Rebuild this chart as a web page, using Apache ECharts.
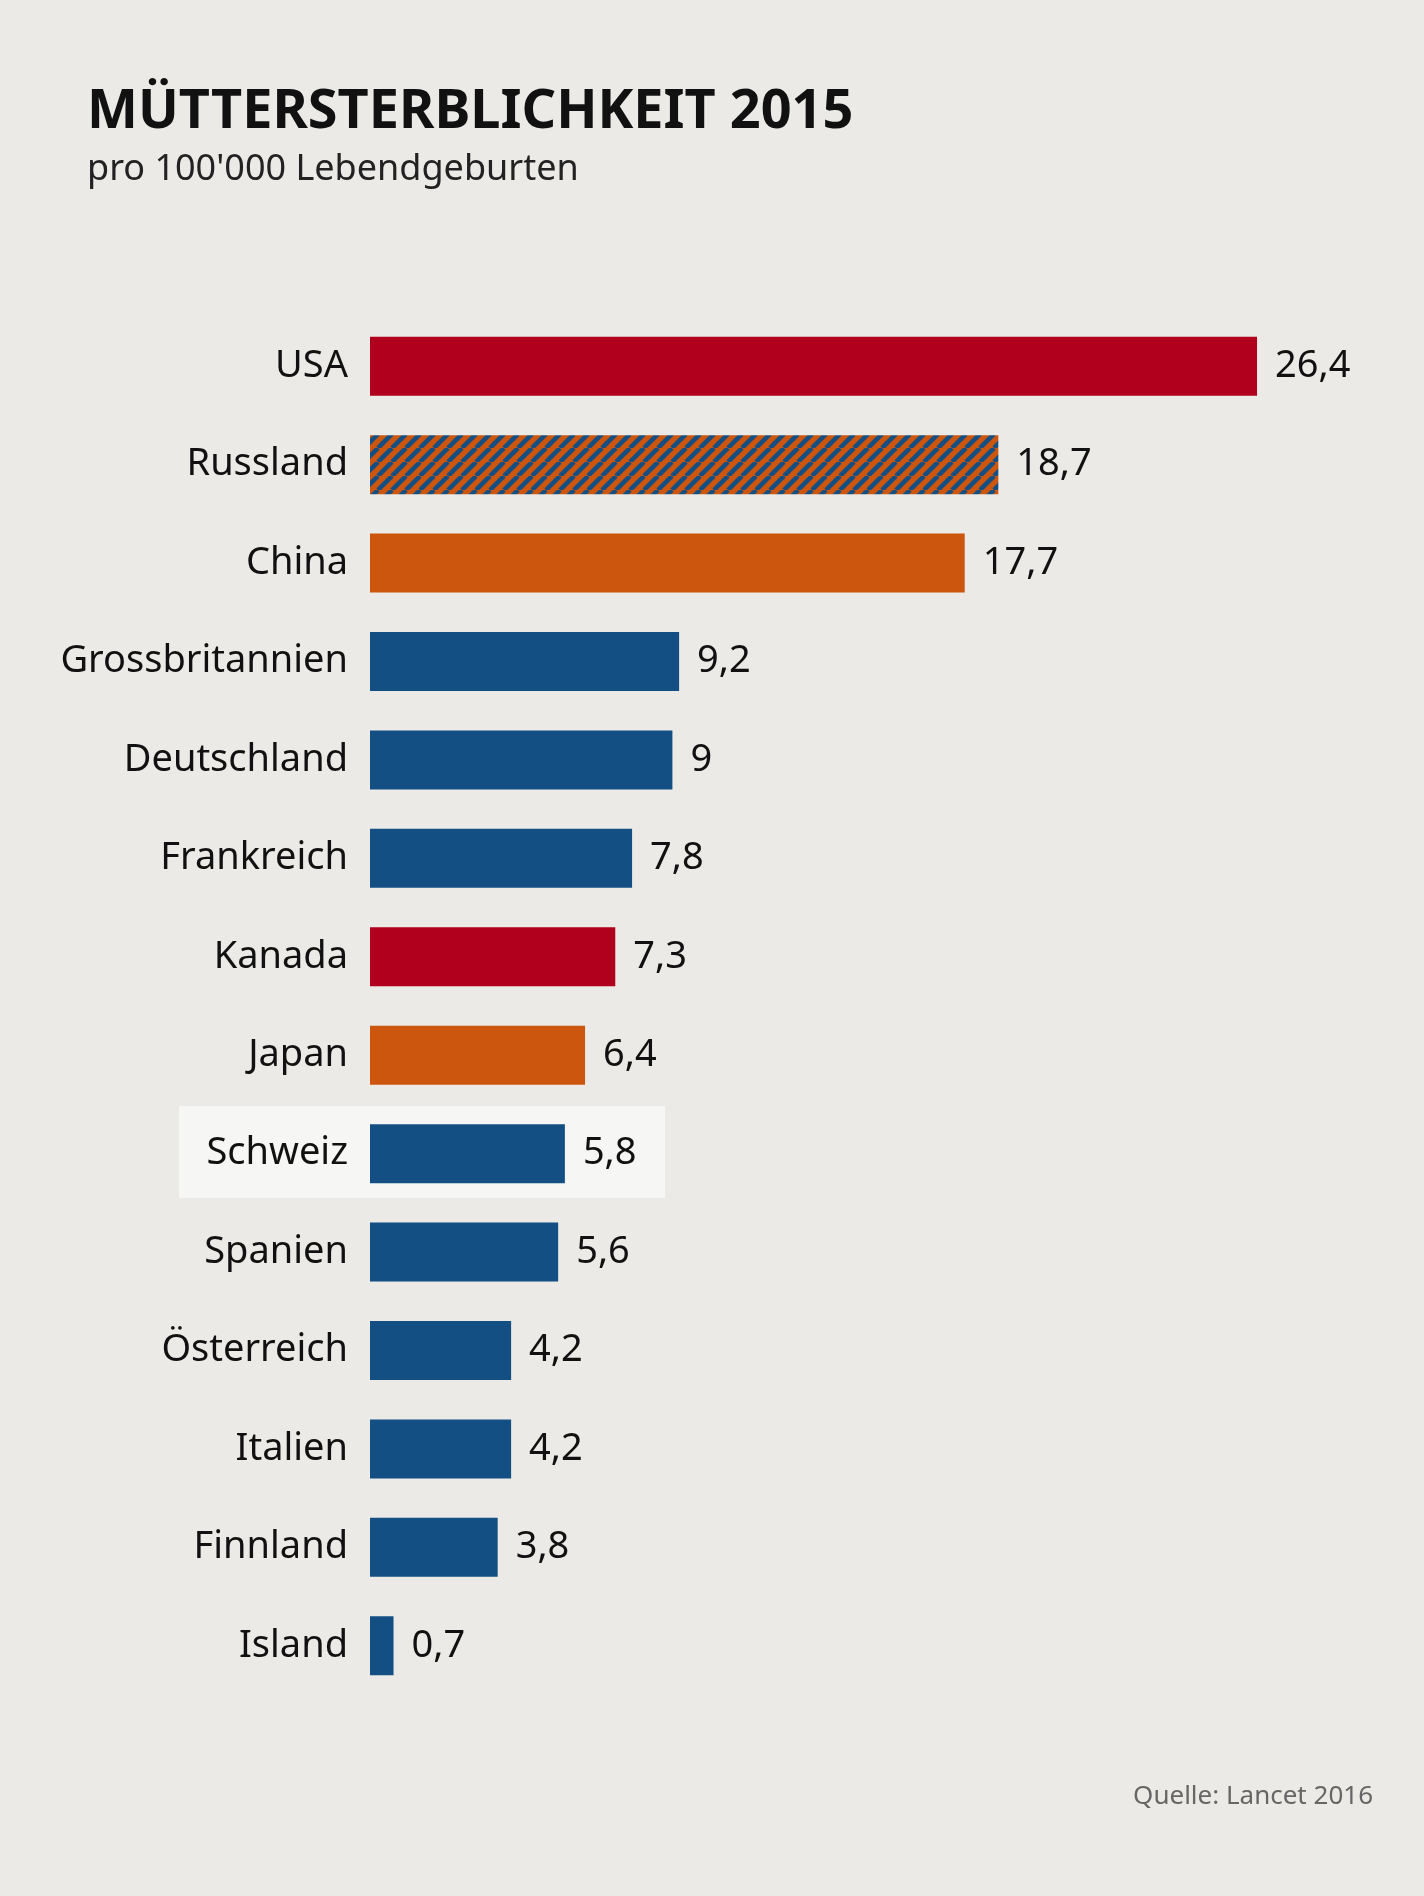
<!DOCTYPE html>
<html><head><meta charset="utf-8">
<script src="https://cdn.jsdelivr.net/npm/echarts@6/dist/echarts.min.js"></script>
<style>html,body{margin:0;padding:0;background:#ebeae6}#c{width:1424px;height:1896px}</style>
</head><body><div id="c"></div>
<script>
const categories = ['USA','Russland','China','Grossbritannien','Deutschland','Frankreich','Kanada','Japan','Schweiz','Spanien','Österreich','Italien','Finnland','Island'];
const values = [26.4,18.7,17.7,9.2,9,7.8,7.3,6.4,5.8,5.6,4.2,4.2,3.8,0.7];
const groups = ['red','hatch','orange','blue','blue','blue','red','orange','blue','blue','blue','blue','blue','blue'];

const RED='#b0001e', ORANGE='#cc560e', BLUE='#134f83';
const tile=document.createElement('canvas'); tile.width=14; tile.height=14;
const g=tile.getContext('2d'); g.fillStyle=ORANGE; g.fillRect(0,0,14,14);
g.strokeStyle=BLUE; g.lineWidth=4.5;
for(const o of [-14,0,14]){g.beginPath();g.moveTo(o,14);g.lineTo(o+14,0);g.stroke();}
const colorOf = k => k==='red'?RED:k==='orange'?ORANGE:k==='blue'?BLUE:{image:tile,repeat:'repeat'};

const chart=echarts.init(document.getElementById('c'));
const F='"Noto Sans", sans-serif';
chart.setOption({
  backgroundColor:'#ebeae6',
  animation:false,
  graphic:[
    {type:'rect',z:-1,shape:{x:179,y:1106,width:486,height:92},style:{fill:'#f6f6f4'}},
    {type:'text',left:87,top:86,style:{text:'MÜTTERSTERBLICHKEIT 2015',font:'bold 54px '+F,fill:'#111'}},
    {type:'text',left:87,top:152,style:{text:"pro 100'000 Lebendgeburten",font:'36px '+F,fill:'#222'}},
    {type:'text',right:51,top:1784,style:{text:'Quelle: Lancet 2016',font:'26px '+F,fill:'#666'}}
  ],
  grid:{left:370,top:317,width:1008,height:1378,containLabel:false},
  xAxis:{type:'value',min:0,max:30,show:false},
  yAxis:{type:'category',data:categories,inverse:true,axisLine:{show:false},axisTick:{show:false},
    axisLabel:{fontFamily:F,fontSize:38,color:'#111',margin:22}},
  series:[{type:'bar',barWidth:59,
    data:values.map((v,i)=>({value:v,itemStyle:{color:colorOf(groups[i])}})),
    label:{show:true,position:'right',distance:18,fontFamily:F,fontSize:38,color:'#111',
      formatter:p=>String(p.value).replace('.',',')}}]
});
</script></body></html>
